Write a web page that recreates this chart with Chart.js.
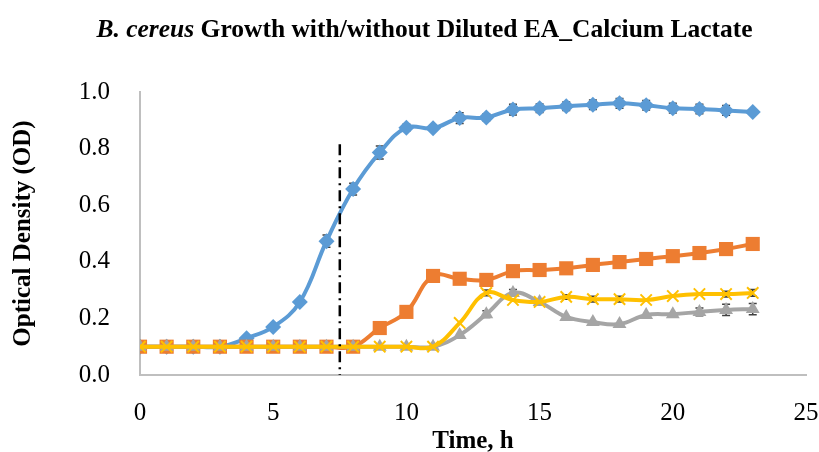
<!DOCTYPE html>
<html>
<head>
<meta charset="utf-8">
<script src="https://cdn.jsdelivr.net/npm/chart.js@4.4.1/dist/chart.umd.min.js"></script>
<style>
  body { margin: 0; background: #fff; }
  #wrap { position: relative; width: 819px; height: 452px; }
  #title { position: absolute; top: 14px; left: 15px; width: 819px; text-align: center;
           font: bold 25.5px "Liberation Serif", "Times New Roman", serif; color: #000; }
</style>
</head>
<body>
<div id="wrap">
  <div id="title"><i>B. cereus</i> Growth with/without Diluted EA_Calcium Lactate</div>
  <canvas id="growthChart" width="819" height="452"></canvas>
</div>
<script>
// waktu (jam)
const hours = [0,1,2,3,4,5,6,7,8,9,10,11,12,13,14,15,16,17,18,19,20,21,22,23];

// nilai OD tiap seri
const blueOD   = [0.10,0.10,0.10,0.10,0.13,0.17,0.258,0.473,0.657,0.786,0.874,0.872,0.908,0.910,0.938,0.943,0.950,0.955,0.960,0.953,0.943,0.940,0.935,0.929];
const orangeOD = [0.10,0.10,0.10,0.10,0.10,0.10,0.10,0.10,0.10,0.166,0.223,0.350,0.340,0.336,0.367,0.371,0.377,0.389,0.399,0.410,0.420,0.431,0.445,0.463];
const grayOD   = [0.10,0.10,0.10,0.10,0.10,0.10,0.10,0.10,0.10,0.10,0.10,0.10,0.141,0.215,0.290,0.258,0.205,0.187,0.180,0.212,0.215,0.223,0.230,0.233];
const yellowOD = [0.10,0.10,0.10,0.10,0.10,0.10,0.10,0.10,0.10,0.10,0.10,0.10,0.184,0.290,0.265,0.258,0.276,0.268,0.268,0.265,0.279,0.286,0.286,0.290];

// error bar (standar deviasi)
const blueErr   = [0,0,0,0,0,0,0,0.022,0.021,0.023,0.012,0.010,0.019,0.012,0.019,0.015,0.015,0.017,0.017,0.017,0.017,0.017,0.017,0];
const orangeErr = [0,0,0,0,0,0,0,0,0,0,0,0,0,0,0,0,0,0,0,0,0,0,0,0];
const grayErr   = [0,0,0,0,0,0,0,0,0,0,0,0,0,0.012,0.012,0,0,0,0,0,0,0.014,0.020,0.020];
const yellowErr = [0,0,0,0,0,0,0,0,0,0,0,0,0,0.010,0,0,0.008,0.010,0.010,0,0,0,0.010,0.012];

// garis vertikal putus-putus (t = 7.5 h), digambar dari atas ke bawah
const cutoffX = [7.5, 7.5];
const cutoffY = [0.815, 0];

const xTicks = [0, 5, 10, 15, 20, 25];
const yTicks = [0, 0.2, 0.4, 0.6, 0.8, 1.0];

function toPoints(xs, ys) {
    return xs.map(function(x, i) { return {x: x, y: ys[i]}; });
}

const serif = '"Liberation Serif", "Times New Roman", serif';

// plugin untuk menggambar error bar
const errorBars = {
    id: 'errorBars',
    beforeDatasetsDraw(chart) {
        const ctx = chart.ctx;
        const xs = chart.scales.x, ys = chart.scales.y;
        chart.data.datasets.forEach(function(ds) {
            if (!ds.errors) return;
            ctx.save();
            ctx.strokeStyle = '#404040';
            ctx.lineWidth = 1.5;
            ds.data.forEach(function(p, i) {
                const e = ds.errors[i];
                if (!e) return;
                const px = xs.getPixelForValue(p.x);
                const top = ys.getPixelForValue(p.y + e);
                const bot = ys.getPixelForValue(p.y - e);
                ctx.beginPath();
                ctx.moveTo(px, top); ctx.lineTo(px, bot);
                ctx.moveTo(px - 4, top); ctx.lineTo(px + 4, top);
                ctx.moveTo(px - 4, bot); ctx.lineTo(px + 4, bot);
                ctx.stroke();
            });
            ctx.restore();
        });
    }
};

const ctx = document.getElementById('growthChart').getContext('2d');
const growthChart = new Chart(ctx, {
    type: 'line',
    data: {
        datasets: [
            {
                label: 'Control',
                data: toPoints(hours, blueOD),
                errors: blueErr,
                borderColor: '#5B9BD5', backgroundColor: '#5B9BD5',
                borderWidth: 4, tension: 0.4,
                pointStyle: 'rectRot', pointRadius: 8, pointBorderWidth: 0,
                order: 4
            },
            {
                label: 'Series 2',
                data: toPoints(hours, orangeOD),
                errors: orangeErr,
                borderColor: '#ED7D31', backgroundColor: '#ED7D31',
                borderWidth: 4, tension: 0.4,
                pointStyle: 'rect', pointRadius: 10, pointBorderWidth: 0,
                order: 3
            },
            {
                label: 'Series 3',
                data: toPoints(hours, grayOD),
                errors: grayErr,
                borderColor: '#A5A5A5', backgroundColor: '#A5A5A5',
                borderWidth: 4, tension: 0.4,
                pointStyle: 'triangle', pointRadius: 8, pointBorderWidth: 0,
                order: 2
            },
            {
                label: 'Series 4',
                data: toPoints(hours, yellowOD),
                errors: yellowErr,
                borderColor: '#FFC000', backgroundColor: '#FFC000',
                borderWidth: 4, tension: 0.4,
                pointStyle: 'crossRot', pointRadius: 8, pointBorderWidth: 2,
                pointBorderColor: '#FFC000',
                order: 1
            },
            {
                label: 'cutoff',
                data: toPoints(cutoffX, cutoffY),
                borderColor: '#000', borderWidth: 2.5,
                borderDash: [11, 5, 2, 5],
                pointRadius: 0, tension: 0,
                order: 0
            }
        ]
    },
    options: {
        responsive: false,
        animation: false,
        layout: { padding: { left: 0, right: 13, top: 92, bottom: 0 } },
        plugins: {
            legend: { display: false },
            tooltip: { enabled: false }
        },
        scales: {
            x: {
                type: 'linear', min: 0, max: 25,
                afterFit: function(scale) {
                    scale.height = 77;
                    scale.paddingLeft = 0;
                    scale.paddingRight = 0;
                },
                afterBuildTicks: function(scale) { scale.ticks = xTicks.map(function(v) { return {value: v}; }); },
                grid: { display: false },
                border: { color: '#BFBFBF', width: 2 },
                ticks: { color: '#000', padding: 15.5, font: { family: serif, size: 25 } },
                title: { display: true, text: 'Time, h', color: '#000', padding: { top: 0, bottom: -2 },
                         font: { family: serif, size: 25, weight: 'bold', lineHeight: 1 } }
            },
            y: {
                min: 0, max: 1,
                afterFit: function(scale) { scale.width = 140; },
                afterBuildTicks: function(scale) { scale.ticks = yTicks.map(function(v) { return {value: v}; }); },
                grid: { display: false },
                border: { color: '#BFBFBF', width: 2 },
                ticks: { color: '#000', padding: 22, font: { family: serif, size: 25 },
                         callback: function(v) { return v.toFixed(1); } },
                title: { display: true, text: 'Optical Density (OD)', color: '#000', padding: { top: 9, bottom: 0 },
                         font: { family: serif, size: 25, weight: 'bold' } }
            }
        }
    },
    plugins: [errorBars]
});
</script>
</body>
</html>
